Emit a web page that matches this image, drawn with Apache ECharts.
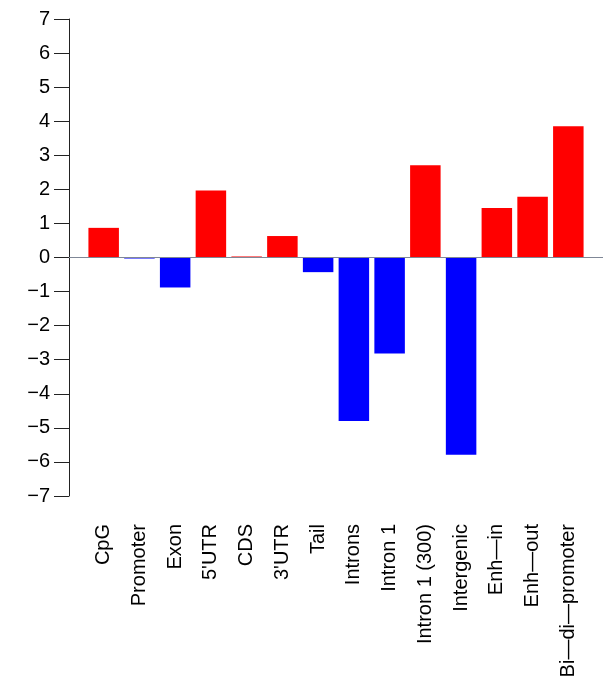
<!DOCTYPE html>
<html>
<head>
<meta charset="utf-8">
<script src="https://cdn.jsdelivr.net/npm/echarts@6/dist/echarts.min.js"></script>
<style>
html,body{margin:0;padding:0;background:#fff;}
#chart{width:603px;height:686px;}
</style>
</head>
<body>
<div id="chart"></div>
<script>
const categories = ['CpG', 'Promoter', 'Exon', "5'UTR", 'CDS', "3'UTR", 'Tail', 'Introns', 'Intron 1', 'Intron 1 (300)', 'Intergenic', 'Enh\u2014in', 'Enh\u2014out', 'Bi\u2014di\u2014promoter'];
const values = [0.87, -0.03, -0.88, 1.97, 0.03, 0.63, -0.43, -4.80, -2.82, 2.71, -5.79, 1.45, 1.78, 3.85];
const yTicks = [-7, -6, -5, -4, -3, -2, -1, 0, 1, 2, 3, 4, 5, 6, 7];

const POS = '#ff0000', NEG = '#0000ff';
const FONT = "'Liberation Sans', Arial, Helvetica, sans-serif";

const barData = values.map((v, i) => ({
  value: [i, v],
  itemStyle: { color: v >= 0 ? POS : NEG }
}));

const chart = echarts.init(document.getElementById('chart'), null, { renderer: 'canvas' });
chart.setOption({
  animation: false,
  backgroundColor: '#ffffff',
  grid: { left: 69, right: 0, top: 19, bottom: 190, containLabel: false, outerBoundsMode: 'none' },
  xAxis: {
    type: 'value',
    min: -0.97,
    max: 13.97,
    position: 'bottom',
    splitLine: { show: false },
    axisLine: { show: false, onZero: false },
    axisTick: { show: false },
    axisLabel: {
      customValues: categories.map((c, i) => i),
      formatter: (v) => categories[Math.round(v)],
      rotate: 90,
      margin: 28,
      fontSize: 20,
      fontFamily: FONT,
      color: '#000'
    }
  },
  yAxis: {
    type: 'value',
    min: yTicks[0],
    max: yTicks[yTicks.length - 1],
    interval: 1,
    splitLine: { show: false },
    axisLine: { show: true, onZero: false, lineStyle: { color: '#222', width: 1 } },
    axisTick: { show: true, length: 15, lineStyle: { color: '#222', width: 1 } },
    axisLabel: {
      margin: 19,
      fontSize: 20,
      fontFamily: FONT,
      color: '#000',
      formatter: (v) => (v < 0 ? '\u2212' + Math.abs(v) : String(v))
    }
  },
  series: [{
    type: 'bar',
    data: barData,
    barWidth: 30.5,
    markLine: {
      silent: true,
      symbol: 'none',
      label: { show: false },
      lineStyle: { color: '#7f8796', width: 1, type: 'solid' },
      data: [{ yAxis: 0 }]
    }
  }]
});
</script>
</body>
</html>
